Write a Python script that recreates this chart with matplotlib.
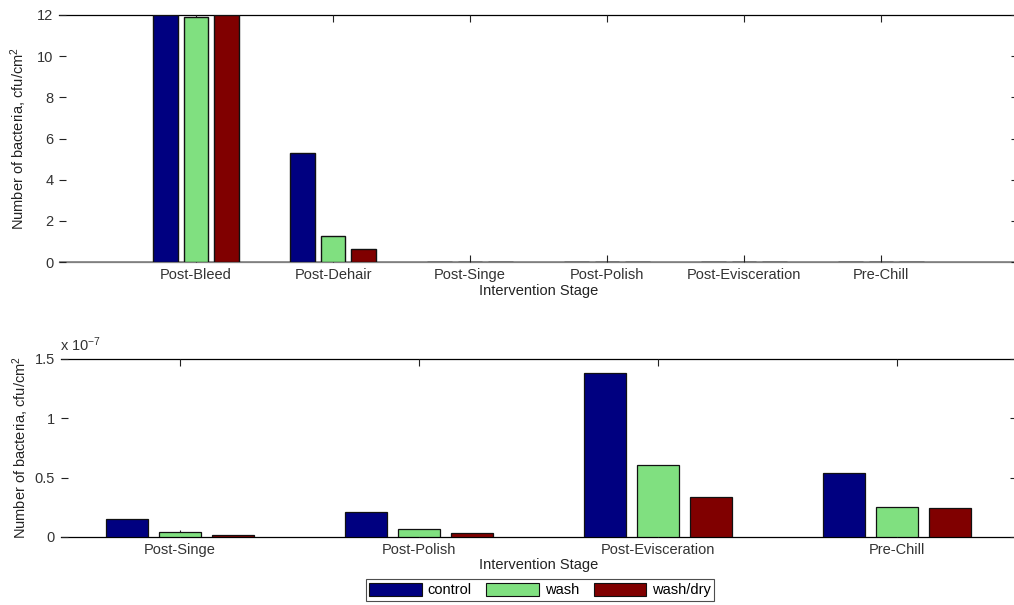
import numpy as np
import matplotlib
matplotlib.use("Agg")
import matplotlib.pyplot as plt
from matplotlib.patches import Patch

plt.rcParams['font.family'] = ['Liberation Sans', 'DejaVu Sans']
plt.rcParams['font.size'] = 10.5
plt.rcParams['mathtext.default'] = 'regular'

stages = ["Post-Bleed", "Post-Dehair", "Post-Singe", "Post-Polish",
          "Post-Evisceration", "Pre-Chill"]
treatments = ["control", "wash", "wash/dry"]
colors = ["#000080", "#80E080", "#800000"]

# early stages, cfu/cm^2
control_early = [12.0, 5.31]
wash_early = [11.88, 1.26]
washdry_early = [12.0, 0.65]

# later stages, in units of 1e-7 cfu/cm^2
scale = 1e-7
late_stages = stages[2:]
control_late = [0.15, 0.21, 1.38, 0.54]
wash_late = [0.04, 0.07, 0.61, 0.255]
washdry_late = [0.017, 0.035, 0.34, 0.246]

all_vals = [
    control_early + [v * scale for v in control_late],
    wash_early + [v * scale for v in wash_late],
    washdry_early + [v * scale for v in washdry_late],
]
late_vals = [control_late, wash_late, washdry_late]

# matlab style grouped bars
offsets = [-0.2222, 0.0, 0.2222]
bw = 0.178

fig = plt.figure(figsize=(10.14, 6.05), dpi=100)
ax1 = fig.add_axes([59 / 1014, 1 - 262 / 605, 959 / 1014, 247 / 605])
ax2 = fig.add_axes([60.5 / 1014, 1 - 537 / 605, 956 / 1014, 178 / 605])


def style_axes(ax):
    ax.spines['left'].set_visible(False)
    ax.spines['right'].set_visible(False)
    for s in ['top', 'bottom']:
        ax.spines[s].set_linewidth(0.9)
        ax.spines[s].set_zorder(1)
    ax.tick_params(direction='in', length=5, width=0.8, top=True, right=True,
                   labelsize=10.5, pad=4, colors='#222222', labelcolor='#333333')


x1 = np.arange(1, len(stages) + 1)
ax1.axhline(0, color='#808080', linewidth=1.2, zorder=1.5)
for i in range(3):
    ax1.bar(x1 + offsets[i], all_vals[i], width=bw, color=colors[i],
            edgecolor='#111111', linewidth=1.0, zorder=2)
ax1.set_xlim(0, 7)
ax1.set_ylim(0, 12)
ax1.set_xticks(x1)
ax1.set_xticklabels(stages)
ax1.set_yticks(range(0, 13, 2))
ax1.set_xlabel("Intervention Stage", labelpad=2, color='#222222')
ax1.set_ylabel("Number of bacteria, cfu/cm$^2$", color='#222222')
ax1.yaxis.set_label_coords(-0.031, 0.5)
style_axes(ax1)
ax1.spines['bottom'].set_color('#808080')

x2 = np.arange(1, len(late_stages) + 1)
for i in range(3):
    ax2.bar(x2 + offsets[i], late_vals[i], width=bw, color=colors[i],
            edgecolor='#111111', linewidth=0.9, zorder=2)
ax2.set_xlim(0.5, 4.5)
ax2.set_ylim(0, 1.5)
ax2.set_xticks(x2)
ax2.set_xticklabels(late_stages)
ax2.set_yticks([0, 0.5, 1, 1.5])
ax2.set_yticklabels(["0", "0.5", "1", "1.5"])
ax2.set_xlabel("Intervention Stage", labelpad=1, color='#222222')
ax2.set_ylabel("Number of bacteria, cfu/cm$^2$", color='#222222')
ax2.yaxis.set_label_coords(-0.031, 0.5)
ax2.text(0.0, 1.03, "x 10$^{-7}$", transform=ax2.transAxes, fontsize=10.5,
         color='#333333', ha='left', va='bottom')
style_axes(ax2)

handles = [Patch(facecolor=c, edgecolor='#111111', linewidth=0.8) for c in colors]
leg = fig.legend(handles, treatments, ncol=3, loc='center',
                 bbox_to_anchor=(540 / 1014, 1 - 590 / 605),
                 frameon=True, fancybox=False, edgecolor='#222222',
                 handlelength=3.6, handleheight=1.0, handletextpad=0.4,
                 columnspacing=1.0, borderpad=0.25, fontsize=10.5)
leg.get_frame().set_linewidth(0.8)

fig.savefig("out.png", dpi=100)
